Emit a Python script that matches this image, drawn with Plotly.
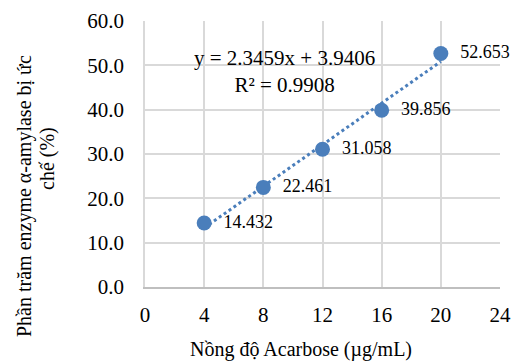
import plotly.graph_objects as go

conc = [4, 8, 12, 16, 20]
inhibition = [14.432, 22.461, 31.058, 39.856, 52.653]
labels = ["14.432", "22.461", "31.058", "39.856", "52.653"]
slope = 2.3459
intercept = 3.9406
eq_text = "y = 2.3459x + 3.9406<br>R² = 0.9908"
x_ticks = [0, 4, 8, 12, 16, 20, 24]
y_ticks = [0, 10, 20, 30, 40, 50, 60]
y_title_lines = ["Phần trăm enzyme α-amylase bị ức", "chế (%)"]
x_title = "Nồng độ Acarbose (µg/mL)"

blue = "#4A7EBB"
font = "Liberation Serif, Times New Roman, serif"

W, H = 515, 361
L, R, T, B = 145, 15, 21, 74
pw, ph = W - L - R, H - T - B


def px_x(p):
    return (p - L) / pw


def px_y(p):
    return (H - B - p) / ph


trend_x = [conc[0], conc[-1]]
trend_y = [slope * v + intercept for v in trend_x]

fig = go.Figure()
fig.add_trace(go.Scatter(x=trend_x, y=trend_y, mode="lines",
                         line=dict(color=blue, width=3, dash="dot"),
                         hoverinfo="skip", showlegend=False))
fig.add_trace(go.Scatter(x=conc, y=inhibition, mode="markers+text",
                         marker=dict(color=blue, size=15),
                         text=["  " + s for s in labels], textposition="middle right",
                         textfont=dict(family=font, size=18, color="#000000"),
                         cliponaxis=False, showlegend=False))

fig.add_annotation(x=9.45, y=48.7, xref="x", yref="y", text=eq_text,
                   showarrow=False, font=dict(family=font, size=21, color="#000000"),
                   align="center")

# axis titles
fig.add_annotation(x=px_x(24), y=px_y(196), xref="paper", yref="paper",
                   text=y_title_lines[0], textangle=-90, showarrow=False,
                   xanchor="center", yanchor="middle",
                   font=dict(family=font, size=20, color="#000000"))
fig.add_annotation(x=px_x(47), y=px_y(158), xref="paper", yref="paper",
                   text=y_title_lines[1], textangle=-90, showarrow=False,
                   xanchor="center", yanchor="middle",
                   font=dict(family=font, size=20, color="#000000"))
fig.add_annotation(x=px_x(301), y=px_y(349), xref="paper", yref="paper",
                   text=x_title, showarrow=False,
                   xanchor="center", yanchor="middle",
                   font=dict(family=font, size=20, color="#000000"))

fig.update_layout(
    width=W, height=H,
    margin=dict(l=L, r=R, t=T, b=B, autoexpand=False),
    paper_bgcolor="white", plot_bgcolor="white",
    font=dict(family=font, size=21, color="#000000"),
)
fig.update_xaxes(range=[0, 24], tickvals=x_ticks, ticktext=[str(v) for v in x_ticks],
                 showgrid=True, gridcolor="#D9D9D9", gridwidth=1.5,
                 showline=True, linecolor="#BFBFBF", linewidth=1.5,
                 zeroline=False, ticks="", ticklabelstandoff=8, automargin=False,
                 tickfont=dict(family=font, size=21))
fig.update_yaxes(range=[0, 60], tickvals=y_ticks, ticktext=[f"{v:.1f}" for v in y_ticks],
                 showgrid=True, gridcolor="#D9D9D9", gridwidth=1.5,
                 showline=True, linecolor="#D9D9D9", linewidth=1.5,
                 zeroline=False, ticks="", ticklabelstandoff=15, automargin=False,
                 tickfont=dict(family=font, size=21))

fig.write_html("out.html")
